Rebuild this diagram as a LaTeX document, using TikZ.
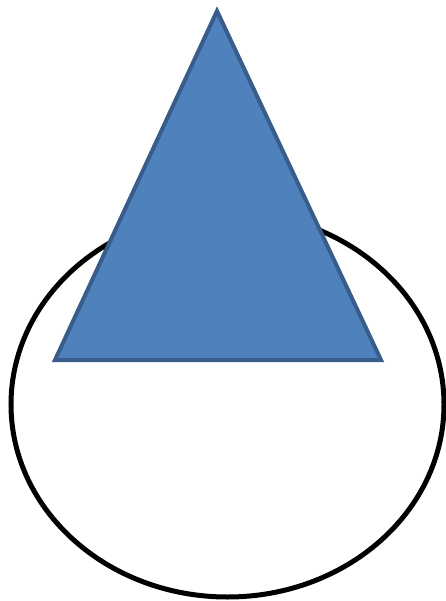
\documentclass[tikz,border=0pt]{standalone}
\definecolor{triFill}{HTML}{4F81BD}
\definecolor{triEdge}{HTML}{385D8A}
\begin{document}
\begin{tikzpicture}[x=1pt,y=-1pt,
  ring/.style={draw=black,line width=5pt},
  tri/.style={fill=triFill,draw=triEdge,line width=4pt,line join=miter}]
\useasboundingbox (0,0) rectangle (445,601);
\draw[ring] (227.5,404.5) ellipse [x radius=216.5,y radius=192.5];
\coordinate (apex) at (217,11);
\coordinate (bl) at (55,360);
\coordinate (br) at (381,360);
\filldraw[tri] (apex) -- (br) -- (bl) -- cycle;
\end{tikzpicture}
\end{document}
